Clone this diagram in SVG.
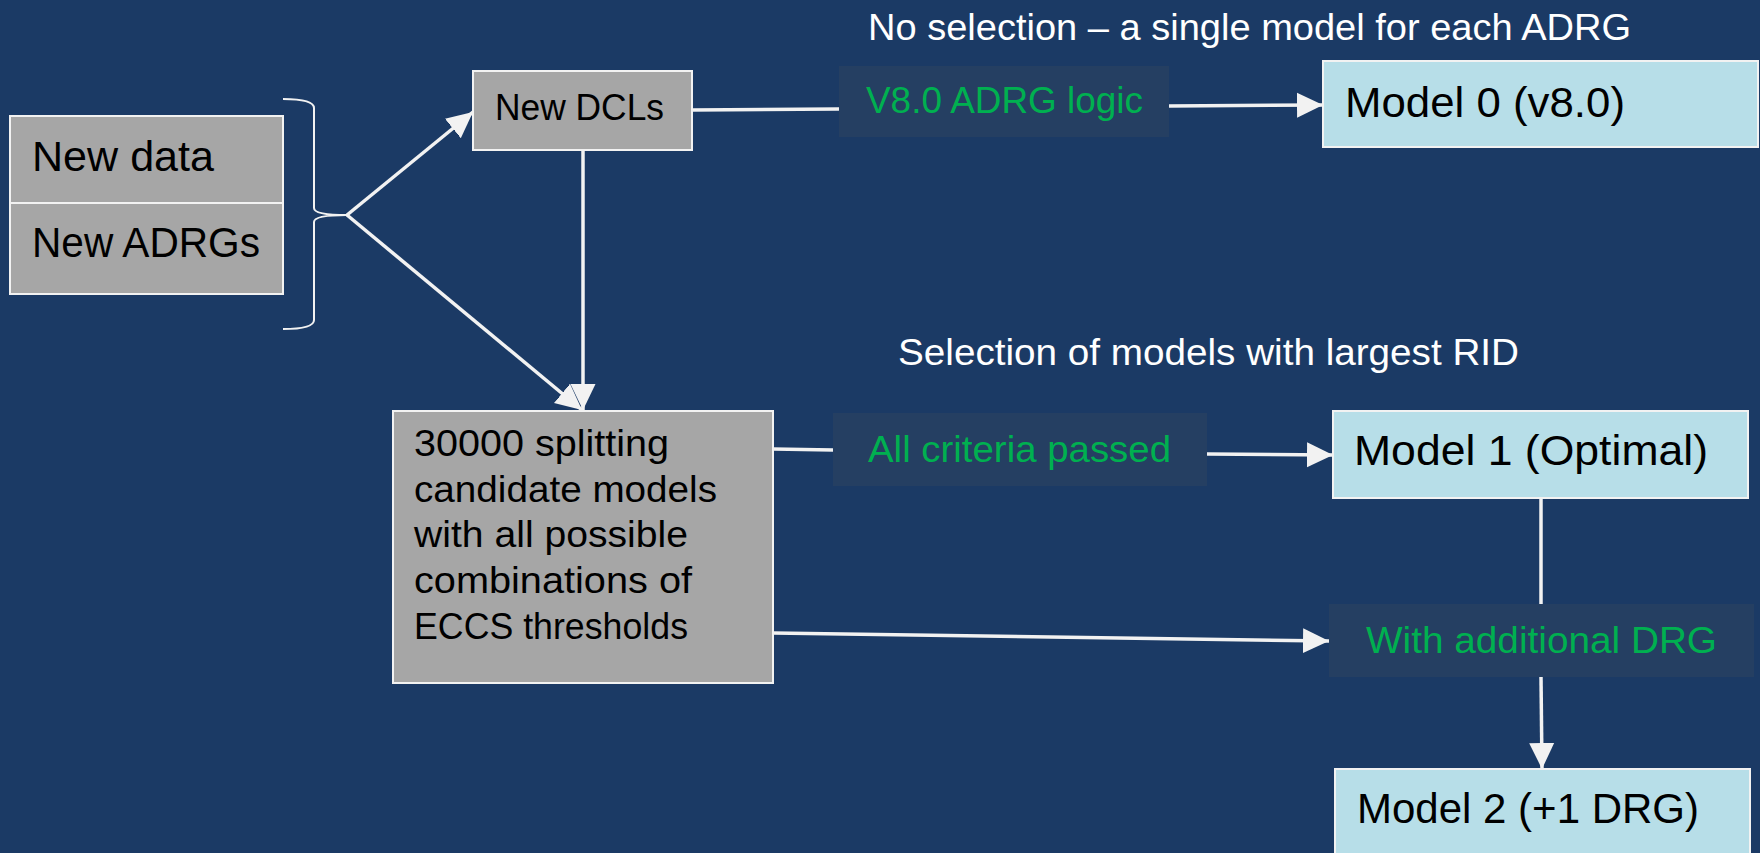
<svg xmlns="http://www.w3.org/2000/svg" width="1760" height="853" viewBox="0 0 1760 853">
<style>
.bg{fill:#1b3a65}
.gray{fill:#a6a6a6;stroke:#f2f2f2;stroke-width:2}
.blue{fill:#b7dee8;stroke:#f2f2f2;stroke-width:2}
.lbl{fill:#253f62}
.t{font-family:"Liberation Sans",Arial,sans-serif;fill:#000}
.s{font-size:37.5px}
.b{font-size:42.5px}
.w{fill:#ffffff}
.g{fill:#00b050}
.ln{stroke:#f2f2f2;stroke-width:3.5;fill:none}
.br{stroke:#f2f2f2;stroke-width:2;fill:none}
</style>
<defs>
<marker id="ah" markerUnits="userSpaceOnUse" markerWidth="28" markerHeight="28" viewBox="0 0 28 28" refX="26" refY="14" orient="auto">
<path d="M0,1.5 L26,14 L0,26.5 Z" fill="#f2f2f2"/>
</marker>
</defs>
<rect class="bg" x="0" y="0" width="1760" height="853"/>

<g id="title-top"><text class="t s w" x="868" y="40" textLength="763" lengthAdjust="spacingAndGlyphs">No selection – a single model for each ADRG</text></g>
<g id="title-mid"><text class="t s w" x="898" y="365" textLength="621" lengthAdjust="spacingAndGlyphs">Selection of models with largest RID</text></g>

<g id="new-data"><rect class="gray" x="10" y="116" width="273" height="87"/><text class="t b" x="32" y="171" textLength="182" lengthAdjust="spacingAndGlyphs">New data</text></g>
<g id="new-adrgs"><rect class="gray" x="10" y="203" width="273" height="91"/><text class="t b" x="32" y="257" textLength="228" lengthAdjust="spacingAndGlyphs">New ADRGs</text></g>
<g id="brace"><path class="br" d="M283,99 Q314,99 314,108 L314,208 Q314,215 347,215 Q314,215 314,222 L314,320 Q314,329 283,329"/></g>

<g id="new-dcls"><rect class="gray" x="473" y="71" width="219" height="79"/><text class="t s" x="495" y="120" textLength="169" lengthAdjust="spacingAndGlyphs">New DCLs</text></g>

<g id="candidates"><rect class="gray" x="393" y="411" width="380" height="272"/>
<text class="t s" x="414" y="456" textLength="255" lengthAdjust="spacingAndGlyphs">30000 splitting</text>
<text class="t s" x="414" y="502" textLength="303" lengthAdjust="spacingAndGlyphs">candidate models</text>
<text class="t s" x="414" y="547" textLength="274" lengthAdjust="spacingAndGlyphs">with all possible</text>
<text class="t s" x="414" y="593" textLength="278" lengthAdjust="spacingAndGlyphs">combinations of</text>
<text class="t s" x="414" y="639" textLength="274" lengthAdjust="spacingAndGlyphs">ECCS thresholds</text>
</g>

<g id="lbl-v8"><rect class="lbl" x="839" y="66" width="330" height="71"/><text class="t s g" x="866" y="113" textLength="277" lengthAdjust="spacingAndGlyphs">V8.0 ADRG logic</text></g>
<g id="lbl-all"><rect class="lbl" x="833" y="413" width="374" height="73"/><text class="t s g" x="868" y="462" textLength="303" lengthAdjust="spacingAndGlyphs">All criteria passed</text></g>
<g id="lbl-with"><rect class="lbl" x="1329" y="604" width="425" height="73"/><text class="t s g" x="1366" y="653" textLength="351" lengthAdjust="spacingAndGlyphs">With additional DRG</text></g>

<g id="model0"><rect class="blue" x="1323" y="61" width="435" height="86"/><text class="t b" x="1345" y="117" textLength="280" lengthAdjust="spacingAndGlyphs">Model 0 (v8.0)</text></g>
<g id="model1"><rect class="blue" x="1333" y="411" width="415" height="87"/><text class="t b" x="1354" y="465" textLength="354" lengthAdjust="spacingAndGlyphs">Model 1 (Optimal)</text></g>
<g id="model2"><rect class="blue" x="1335" y="769" width="415" height="100"/><text class="t b" x="1357" y="823" textLength="342" lengthAdjust="spacingAndGlyphs">Model 2 (+1 DRG)</text></g>

<g id="connectors">
<line class="ln" x1="347" y1="215" x2="473" y2="112" marker-end="url(#ah)"/>
<line class="ln" x1="347" y1="215" x2="582" y2="410" marker-end="url(#ah)"/>
<line class="ln" x1="583" y1="150" x2="583" y2="410" marker-end="url(#ah)"/>
<line class="ln" x1="692" y1="110" x2="839" y2="109"/>
<line class="ln" x1="1169" y1="106" x2="1323" y2="105" marker-end="url(#ah)"/>
<line class="ln" x1="773" y1="449" x2="833" y2="450"/>
<line class="ln" x1="1207" y1="454" x2="1333" y2="455" marker-end="url(#ah)"/>
<line class="ln" x1="773" y1="633" x2="1329" y2="641" marker-end="url(#ah)"/>
<line class="ln" x1="1541" y1="498" x2="1541" y2="604"/>
<line class="ln" x1="1541" y1="677" x2="1542" y2="769" marker-end="url(#ah)"/>
</g>
</svg>
